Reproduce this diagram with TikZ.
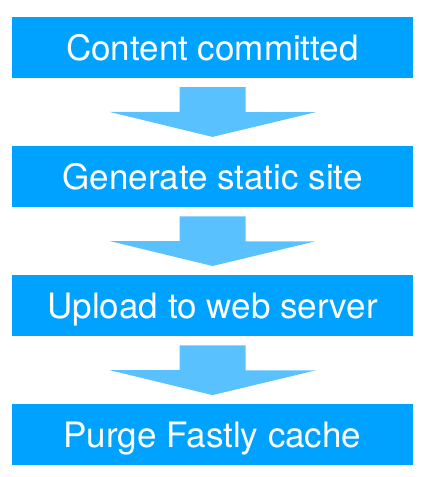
\documentclass[tikz,border=0pt]{standalone}
\usepackage{fontspec}
\setmainfont{TeX Gyre Heros}
\usetikzlibrary{positioning}
\definecolor{stepblue}{RGB}{0,162,255}
\definecolor{arrowblue}{RGB}{90,193,255}
\tikzset{
  stepbox/.style={fill=stepblue, text=white, minimum width=401pt, minimum height=61pt,
    inner sep=0pt, text height=25pt, text depth=0pt, font=\fontsize{35}{40}\selectfont},
  blockarrow/.style={fill=arrowblue}
}
\begin{document}
\begin{tikzpicture}[x=1pt,y=1pt]
      \useasboundingbox (0,0) rectangle (424,-477);
      \node[stepbox] (0) at (212.5,-47.5) {Content committed};
      \node[stepbox, below=67.7pt of 0] (1) {Generate static site};
      \node[stepbox, below=67.7pt of 1] (2) {Upload to web server};
      \node[stepbox, below=67.7pt of 2] (3) {Purge Fastly cache};
      \begin{scope}[blockarrow]
        \fill ([xshift=-33pt,yshift=-9pt]0.south) -- ++(66,0) -- ++(0,-25) -- ++(70,0)
          -- ([yshift=9pt]1.north) -- ++(-103,25) -- ++(70,0) -- cycle;
        \fill ([xshift=-33pt,yshift=-9pt]1.south) -- ++(66,0) -- ++(0,-25) -- ++(70,0)
          -- ([yshift=9pt]2.north) -- ++(-103,25) -- ++(70,0) -- cycle;
        \fill ([xshift=-33pt,yshift=-9pt]2.south) -- ++(66,0) -- ++(0,-25) -- ++(70,0)
          -- ([yshift=9pt]3.north) -- ++(-103,25) -- ++(70,0) -- cycle;
      \end{scope}
    \end{tikzpicture}
\end{document}
